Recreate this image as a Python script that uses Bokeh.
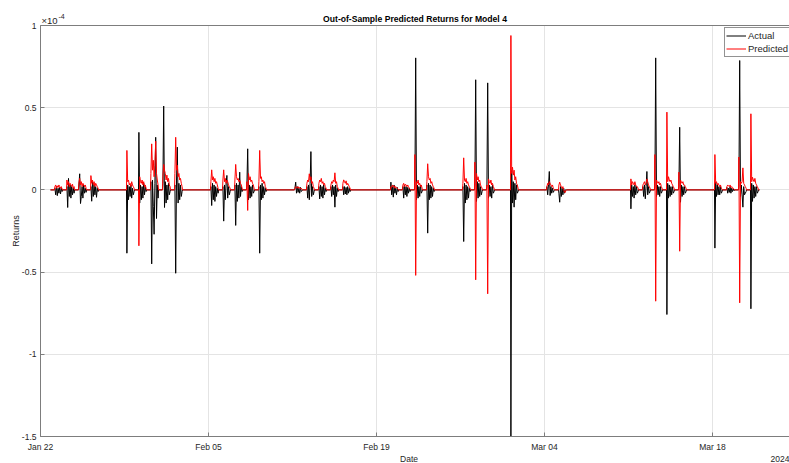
import math
import pandas as pd
from bokeh.plotting import figure
from bokeh.models import (FixedTicker, DatetimeTickFormatter, CustomJSTickFormatter, Label,
                          Legend, LegendItem, Range1d, ColumnDataSource, Grid, DatetimeAxis)
from bokeh.embed import file_html
from bokeh.resources import INLINE

# ---------------- text ----------------
title_text = "Out-of-Sample Predicted Returns for Model 4"
x_label = "Date"
y_label = "Returns"
year_label = "2024"
exponent_base = "×10"
exponent_power = "-4"
series_names = ["Actual", "Predicted"]

# ---------------- axes ----------------
x_start = "2024-01-22 00:00"
x_end = "2024-03-24 10:00"
x_tick_dates = ["2024-01-22", "2024-02-05", "2024-02-19", "2024-03-04", "2024-03-18"]
y_min, y_max = -1.5, 1.0
y_ticks = [-1.5, -1, -0.5, 0, 0.5, 1]

# ---------------- data (returns in units of 1e-4) ----------------
series_start = "2024-01-22 20:00"
series_end = "2024-03-21 22:00"
samples_per_day = 10

trading_days = [
    "2024-01-23", "2024-01-24", "2024-01-25", "2024-01-26",
    "2024-01-29", "2024-01-30", "2024-01-31", "2024-02-01", "2024-02-02",
    "2024-02-05", "2024-02-06", "2024-02-07", "2024-02-08", "2024-02-09",
    "2024-02-12", "2024-02-13", "2024-02-14", "2024-02-15", "2024-02-16",
    "2024-02-20", "2024-02-21", "2024-02-22", "2024-02-23",
    "2024-02-26", "2024-02-27", "2024-02-28", "2024-03-01",
    "2024-03-04", "2024-03-05",
    "2024-03-11", "2024-03-12", "2024-03-13", "2024-03-14", "2024-03-15",
    "2024-03-18", "2024-03-19", "2024-03-20", "2024-03-21",
]

actual_returns = [
    0.01, -0.03, 0.02, -0.035, 0.01, -0.02, 0.015, -0.025, 0.01, -0.01,      # Jan 23
    0.02, -0.107, 0.07, -0.04, 0.03, -0.05, 0.02, -0.03, 0.01, -0.02,        # Jan 24
    0.03, 0.098, -0.083, -0.04, 0.02, -0.05, 0.03, -0.02, 0.01, -0.015,      # Jan 25
    0.02, -0.069, 0.05, -0.04, 0.03, -0.03, 0.02, -0.045, 0.01, -0.01,       # Jan 26
    -0.385, 0.03, -0.06, 0.02, -0.04, 0.03, -0.05, 0.01, -0.03, -0.01,       # Jan 29
    0.35, -0.08, 0.03, -0.06, 0.02, -0.05, 0.04, -0.03, 0.02, -0.01,         # Jan 30
    0.05, -0.45, 0.06, -0.1, -0.27, 0.04, 0.32, -0.174, 0.03, -0.05,         # Jan 31
    0.04, 0.51, -0.107, 0.05, -0.08, 0.03, -0.06, 0.04, -0.03, -0.01,        # Feb 01
    0.03, -0.507, 0.06, 0.26, -0.08, 0.04, -0.06, 0.03, -0.04, -0.01,        # Feb 02
    0.02, -0.095, 0.04, -0.06, 0.03, -0.07, 0.02, -0.04, 0.01, -0.02,        # Feb 05
    0.02, -0.19, 0.03, -0.06, 0.04, 0.088, -0.05, 0.02, -0.03, -0.01,        # Feb 06
    0.03, -0.216, 0.04, -0.07, 0.03, -0.05, 0.108, -0.04, 0.02, -0.01,       # Feb 07
    0.03, 0.25, -0.06, 0.03, -0.05, 0.02, -0.04, 0.03, -0.02, -0.01,         # Feb 08
    0.02, -0.385, 0.03, -0.06, 0.04, -0.05, 0.02, -0.03, 0.01, -0.01,        # Feb 09
    0.01, 0.047, -0.02, 0.02, -0.015, 0.01, -0.02, 0.015, -0.01, -0.005,     # Feb 12
    0.02, -0.05, 0.03, -0.06, 0.04, 0.233, -0.04, 0.02, -0.03, -0.01,        # Feb 13
    0.02, -0.055, 0.03, -0.04, 0.02, -0.05, 0.03, -0.03, 0.01, -0.01,        # Feb 14
    0.02, -0.04, 0.03, -0.03, 0.02, -0.105, 0.03, -0.04, 0.01, -0.01,        # Feb 15
    0.02, -0.03, 0.02, -0.025, 0.015, -0.03, 0.02, -0.02, 0.01, -0.01,       # Feb 16
    0.047, -0.03, 0.02, -0.044, 0.03, -0.02, 0.01, -0.03, 0.015, -0.01,      # Feb 20
    0.02, -0.05, 0.03, -0.03, 0.02, -0.04, 0.015, -0.02, 0.01, -0.01,        # Feb 21
    0.02, 0.803, -0.06, 0.03, -0.05, 0.02, -0.04, 0.03, -0.02, -0.01,        # Feb 22
    0.03, -0.263, 0.04, -0.06, 0.03, -0.05, 0.02, -0.04, 0.01, -0.01,        # Feb 23
    0.02, -0.314, 0.04, -0.08, 0.03, -0.06, 0.02, -0.05, 0.01, -0.01,        # Feb 26
    0.03, 0.67, -0.07, 0.05, -0.05, 0.04, -0.04, 0.02, -0.03, -0.01,         # Feb 27
    0.02, 0.651, -0.05, 0.03, -0.04, 0.02, -0.05, 0.03, -0.02, -0.01,        # Feb 28
    -1.5, 0.118, -0.08, 0.05, -0.105, 0.04, -0.06, 0.03, -0.02, -0.01,       # Mar 01
    0.02, -0.03, 0.03, 0.112, -0.034, 0.02, -0.02, 0.01, -0.015, -0.005,     # Mar 04
    -0.02, -0.075, 0.02, -0.04, 0.01, -0.03, 0.01, -0.02, 0.0, 0.0,          # Mar 05
    -0.115, 0.03, -0.04, 0.02, -0.05, 0.03, -0.03, 0.02, -0.02, -0.01,       # Mar 11
    0.02, -0.04, 0.03, -0.054, 0.02, 0.112, -0.03, 0.02, -0.02, -0.01,       # Mar 12
    0.02, 0.803, -0.04, 0.03, -0.03, 0.02, -0.04, 0.02, -0.02, -0.01,        # Mar 13
    -0.758, 0.04, -0.05, 0.03, -0.04, 0.02, -0.03, 0.02, -0.02, -0.01,       # Mar 14
    0.02, 0.381, -0.075, 0.03, -0.04, 0.02, -0.03, 0.02, -0.02, -0.01,       # Mar 15
    -0.354, 0.047, -0.04, 0.03, -0.03, 0.02, -0.03, 0.02, -0.02, -0.01,      # Mar 18
    0.015, -0.02, 0.01, -0.015, 0.02, -0.02, 0.01, -0.01, 0.005, -0.005,     # Mar 19
    0.02, 0.787, -0.04, 0.03, -0.03, -0.105, 0.02, -0.03, -0.02, -0.01,      # Mar 20
    -0.723, 0.04, -0.07, 0.03, -0.05, 0.02, -0.04, 0.02, -0.02, -0.01,       # Mar 21
]

predicted_returns = [
    0.02, 0.03, 0.01, 0.025, 0.015, 0.03, 0.02, 0.01, 0.02, 0.005,           # Jan 23
    0.06, 0.03, 0.05, 0.02, 0.04, 0.03, 0.02, 0.035, 0.01, 0.02,             # Jan 24
    0.04, 0.07, 0.03, 0.05, 0.02, 0.04, 0.03, 0.02, 0.03, 0.01,              # Jan 25
    0.087, 0.04, 0.06, 0.03, 0.05, 0.02, 0.04, 0.03, 0.02, 0.01,             # Jan 26
    0.24, 0.05, 0.06, 0.03, 0.04, 0.02, 0.05, 0.03, 0.02, 0.01,              # Jan 29
    -0.34, 0.08, 0.05, 0.04, 0.06, 0.03, 0.05, 0.02, 0.03, 0.01,             # Jan 30
    0.1, 0.28, 0.12, 0.18, 0.08, 0.15, 0.296, 0.1, 0.06, 0.03,               # Jan 31
    0.08, 0.155, 0.12, 0.1, 0.06, 0.09, 0.05, 0.07, 0.03, 0.02,              # Feb 01
    0.1, 0.32, 0.12, 0.15, 0.08, 0.1, 0.06, 0.07, 0.04, 0.02,                # Feb 02
    0.05, 0.122, 0.06, 0.08, 0.05, 0.07, 0.04, 0.05, 0.03, 0.01,             # Feb 05
    0.06, 0.122, 0.05, 0.07, 0.04, 0.06, 0.05, 0.03, 0.02, 0.01,             # Feb 06
    0.06, 0.155, 0.08, 0.06, 0.07, 0.05, 0.06, 0.04, 0.03, 0.01,             # Feb 07
    0.05, -0.125, 0.1, 0.06, 0.08, 0.05, 0.06, 0.04, 0.03, 0.01,             # Feb 08
    0.05, 0.24, 0.07, 0.08, 0.05, 0.06, 0.04, 0.05, 0.02, 0.01,              # Feb 09
    0.01, 0.02, 0.015, 0.01, 0.02, 0.01, 0.015, 0.005, 0.01, 0.005,          # Feb 12
    0.04, 0.06, 0.05, 0.098, 0.06, 0.08, 0.04, 0.05, 0.02, 0.01,             # Feb 13
    0.04, 0.06, 0.05, 0.07, 0.04, 0.05, 0.03, 0.04, 0.02, 0.01,              # Feb 14
    0.03, 0.05, 0.04, 0.06, 0.05, 0.104, 0.04, 0.05, 0.02, 0.01,             # Feb 15
    0.04, 0.061, 0.05, 0.04, 0.055, 0.03, 0.04, 0.03, 0.02, 0.01,            # Feb 16
    0.02, 0.015, 0.03, 0.02, 0.025, 0.01, 0.02, 0.015, 0.01, 0.005,          # Feb 20
    0.03, 0.04, 0.02, 0.035, 0.03, 0.02, 0.03, 0.02, 0.01, 0.005,            # Feb 21
    0.215, -0.52, 0.05, 0.04, 0.06, 0.03, 0.04, 0.02, 0.03, 0.01,            # Feb 22
    0.05, 0.159, 0.08, 0.06, 0.07, 0.04, 0.05, 0.03, 0.02, 0.01,             # Feb 23
    0.04, 0.195, 0.06, 0.05, 0.07, 0.04, 0.05, 0.03, 0.02, 0.01,             # Feb 26
    0.169, -0.547, 0.1, 0.06, 0.08, 0.05, 0.06, 0.03, 0.02, 0.01,            # Feb 27
    0.03, -0.632, 0.067, 0.05, 0.04, 0.06, 0.03, 0.04, 0.02, 0.01,           # Feb 28
    0.939, 0.1, 0.138, 0.09, 0.12, 0.06, 0.08, 0.04, 0.03, 0.01,             # Mar 01
    0.02, 0.04, 0.03, 0.05, 0.04, 0.03, 0.02, 0.03, 0.01, 0.005,             # Mar 04
    0.03, 0.047, 0.03, 0.02, 0.01, 0.02, 0.0, -0.015, -0.015, 0.0,           # Mar 05
    0.067, 0.03, 0.05, 0.04, 0.03, 0.05, 0.03, 0.02, 0.02, 0.01,             # Mar 11
    0.03, 0.04, 0.05, 0.03, 0.04, 0.067, 0.05, 0.03, 0.02, 0.01,             # Mar 12
    0.215, -0.677, 0.06, 0.05, 0.04, 0.05, 0.03, 0.04, 0.02, 0.01,           # Mar 13
    0.473, 0.05, 0.08, 0.06, 0.05, 0.06, 0.04, 0.03, 0.02, 0.01,             # Mar 14
    0.108, -0.373, 0.06, 0.05, 0.04, 0.05, 0.03, 0.03, 0.02, 0.01,           # Mar 15
    0.215, 0.04, 0.05, 0.03, 0.04, 0.03, 0.02, 0.03, 0.01, 0.005,            # Mar 18
    0.02, 0.03, 0.025, 0.02, 0.03, 0.015, 0.02, 0.01, 0.01, 0.005,           # Mar 19
    0.2, -0.687, 0.05, 0.04, 0.05, 0.134, 0.04, 0.03, 0.02, 0.01,            # Mar 20
    0.463, 0.05, 0.077, 0.06, 0.05, 0.07, 0.04, 0.03, 0.02, 0.01,            # Mar 21
]


def build_series(values):
    """Zero outside the 04:00-20:00 session; session samples evenly spread."""
    xs = [pd.Timestamp(series_start)]
    ys = [0.0]
    session_hours = 16.0
    for i, d in enumerate(trading_days):
        day = pd.Timestamp(d)
        xs.append(day + pd.Timedelta(hours=4))
        ys.append(0.0)
        for k in range(samples_per_day):
            xs.append(day + pd.Timedelta(hours=4 + (k + 0.5) * session_hours / samples_per_day))
            ys.append(values[i * samples_per_day + k])
        xs.append(day + pd.Timedelta(hours=20))
        ys.append(0.0)
    xs.append(pd.Timestamp(series_end))
    ys.append(0.0)
    return ColumnDataSource(dict(x=xs, y=ys))


def ms(t):
    return pd.Timestamp(t).value / 1e6


FONT = "Liberation Sans"
TXT = "#262626"
AX = "#7d7d7d"
GRID = "#e4e4e4"

# layout: the frame fills the whole canvas; the axes box sits 40 px from the
# left, 25 px below the top and 27 px above the bottom.
W, H = 789, 463
LEFT, TOP_PAD, BOTTOM_PAD = 40, 25, 27
x0, x1 = ms(x_start), ms(x_end)
px_per_unit = (H - TOP_PAD - BOTTOM_PAD) / (y_max - y_min)
y_lo = y_min - BOTTOM_PAD / px_per_unit
y_hi = y_max + TOP_PAD / px_per_unit
x_lo = x0 - LEFT * (x1 - x0) / (W - LEFT)

p = figure(width=W, height=H, x_axis_type="datetime", output_backend="svg",
           toolbar_location=None, x_range=Range1d(x_lo, x1), y_range=Range1d(y_lo, y_hi),
           min_border_left=0, min_border_right=0, min_border_top=0, min_border_bottom=0,
           background_fill_color="white", border_fill_color="white")
p.outline_line_color = None
p.title.visible = False

x_ticks = [ms(t) for t in x_tick_dates]
fmt = "%b %d"
p.xaxis.ticker = FixedTicker(ticks=x_ticks)
p.xaxis.formatter = DatetimeTickFormatter(microseconds=fmt, milliseconds=fmt, seconds=fmt,
                                          minsec=fmt, minutes=fmt, hourmin=fmt, hours=fmt,
                                          days=fmt, months=fmt, years=fmt)
p.xaxis.fixed_location = y_min
p.xaxis.bounds = (x0, x1)
p.yaxis.ticker = FixedTicker(ticks=y_ticks)
p.yaxis.formatter = CustomJSTickFormatter(code="return tick.toString();")
p.yaxis.fixed_location = x0
p.yaxis.bounds = (y_min, y_max)

for ax in (p.xaxis[0], p.yaxis[0]):
    ax.axis_line_color = AX
    ax.major_tick_line_color = AX
    ax.major_tick_in = 4
    ax.major_tick_out = 0
    ax.minor_tick_line_color = None
    ax.major_label_text_font = FONT
    ax.major_label_text_font_size = "8.5px"
    ax.major_label_text_color = TXT
p.xaxis.major_label_standoff = 5
p.yaxis.major_label_standoff = 4

# top edge of the axes box
top_axis = DatetimeAxis(ticker=FixedTicker(ticks=[]), fixed_location=y_max, bounds=(x0, x1),
                        axis_line_color=AX, major_tick_line_color=None,
                        minor_tick_line_color=None)
p.add_layout(top_axis, "above")

# grid (bounded to the axes box)
has_cross = "cross_bounds" in Grid.properties()
p.xgrid.ticker = FixedTicker(ticks=x_ticks)
p.ygrid.ticker = FixedTicker(ticks=y_ticks)
if has_cross:
    p.xgrid.grid_line_color = GRID
    p.ygrid.grid_line_color = GRID
    p.xgrid.cross_bounds = (y_min, y_max)
    p.ygrid.cross_bounds = (x0, x1)
else:
    p.xgrid.visible = False
    p.ygrid.visible = False
    n_x, n_y = len(x_ticks), len(y_ticks)
    p.segment(x0=x_ticks, x1=x_ticks, y0=[y_min] * n_x, y1=[y_max] * n_x,
              line_color=GRID, line_width=1, level="underlay")
    p.segment(x0=[x0] * n_y, x1=[x1] * n_y, y0=y_ticks, y1=y_ticks,
              line_color=GRID, line_width=1, level="underlay")

r_act = p.line("x", "y", source=build_series(actual_returns), line_color="#000000", line_width=1)
r_pred = p.line("x", "y", source=build_series(predicted_returns), line_color="#ff0000", line_width=1)

legend = Legend(items=[LegendItem(label=series_names[0], renderers=[r_act]),
                       LegendItem(label=series_names[1], renderers=[r_pred])],
                location=(724, H - 57), orientation="vertical",
                label_text_font=FONT, label_text_font_size="9.5px", label_text_color=TXT,
                glyph_width=20, glyph_height=13, label_height=13, label_standoff=2,
                padding=1, spacing=0, margin=0,
                border_line_color="#262626", border_line_width=1,
                background_fill_color="white", background_fill_alpha=1.0)
p.add_layout(legend)

x_mid = (x0 + x1) / 2
p.add_layout(Label(x=x_mid, y=y_max, y_offset=7, text=title_text, text_align="center",
                   text_baseline="middle", text_font=FONT, text_font_style="bold",
                   text_font_size="8.6px", text_color="#000000"))
p.add_layout(Label(x=x0, y=y_max, x_offset=1, y_offset=5, text=exponent_base, text_align="left",
                   text_baseline="middle", text_font=FONT, text_font_size="9.5px", text_color=TXT))
p.add_layout(Label(x=x0, y=y_max, x_offset=18, y_offset=9, text=exponent_power, text_align="left",
                   text_baseline="middle", text_font=FONT, text_font_size="7px", text_color=TXT))
p.add_layout(Label(x=x_mid, y=y_min, x_offset=-6, y_offset=-22, text=x_label, text_align="center",
                   text_baseline="middle", text_font=FONT, text_font_size="8.5px", text_color=TXT))
p.add_layout(Label(x=x1, y=y_min, y_offset=-22, text=year_label, text_align="right",
                   text_baseline="middle", text_font=FONT, text_font_size="8.5px", text_color=TXT))
p.add_layout(Label(x=x0, y=(y_min + y_max) / 2, x_offset=-25, text=y_label, angle=math.pi / 2,
                   text_align="center", text_baseline="middle", text_font=FONT,
                   text_font_size="9px", text_color=TXT))

open("out.html", "w").write(file_html(p, INLINE))
